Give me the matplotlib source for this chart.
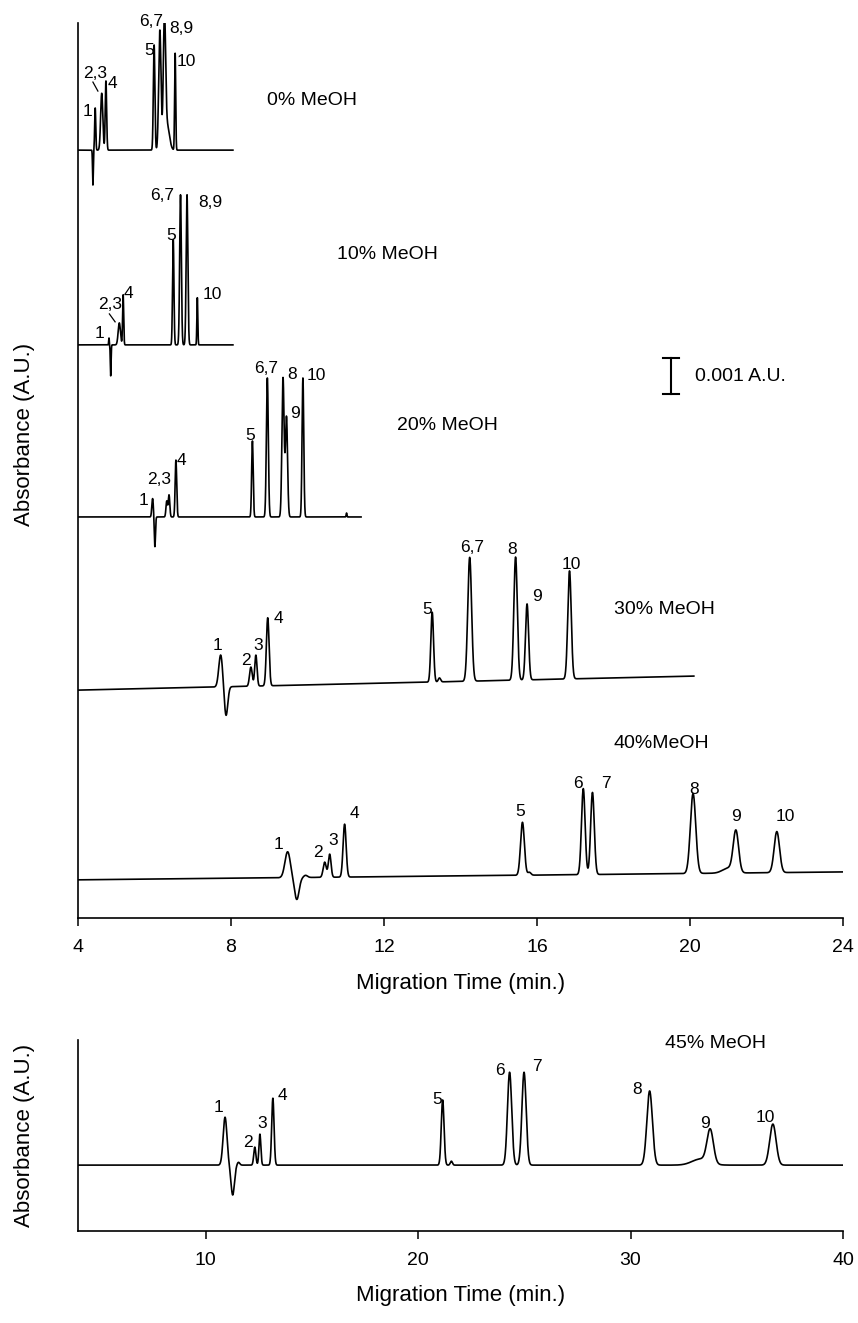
"""
Electropherograms of the ten analytes at increasing methanol content
Rebuilt from peak tables read off the published figure
"""

import numpy as np
import matplotlib
matplotlib.use('Agg')
import matplotlib.pyplot as plt

plt.rcParams['font.family'] = ['Liberation Sans', 'DejaVu Sans']

# ---- peak tables: migration time (min), height (mAU), width sigma (min) ----
# negative heights are the system dip after the EOF marker

t_0 = [4.39, 4.45, 4.62, 4.73, 5.99, 6.14, 6.26, 6.33, 6.54]
h_0 = [-0.97, 1.17, 1.58, 1.92, 2.92, 3.33, 3.50, 0.69, 2.69]
w_0 = [0.010, 0.014, 0.028, 0.018, 0.020, 0.030, 0.030, 0.060, 0.014]

t_10 = [4.81, 4.855, 5.08, 5.18, 6.49, 6.68, 6.85, 7.12]
h_10 = [0.19, -0.86, 0.61, 1.39, 2.92, 4.17, 4.17, 1.31]
w_10 = [0.008, 0.010, 0.030, 0.014, 0.018, 0.022, 0.022, 0.012]

t_20 = [5.95, 6.01, 6.32, 6.38, 6.56, 8.56, 8.95, 9.36, 9.45, 9.88, 11.02]
h_20 = [0.51, -0.83, 0.44, 0.61, 1.58, 2.11, 3.86, 3.86, 2.78, 3.86, 0.11]
w_20 = [0.020, 0.015, 0.020, 0.020, 0.020, 0.020, 0.025, 0.028, 0.028, 0.022, 0.010]

t_30 = [7.73, 7.87, 8.52, 8.65, 8.96, 13.26, 13.45, 14.24, 15.44, 15.74, 16.85]
h_30 = [0.89, -0.81, 0.53, 0.86, 1.89, 1.94, 0.11, 3.44, 3.42, 2.11, 3.00]
w_30 = [0.050, 0.045, 0.035, 0.030, 0.035, 0.035, 0.030, 0.050, 0.045, 0.040, 0.045]

t_40 = [9.48, 9.72, 9.95, 10.45, 10.58, 10.97, 15.62, 15.80, 17.21, 17.45,
        20.08, 21.00, 21.20, 22.27]
h_40 = [0.72, -0.61, 0.06, 0.42, 0.64, 1.47, 1.47, 0.08, 2.39, 2.28,
        2.22, 0.14, 1.14, 1.14]
w_40 = [0.070, 0.060, 0.050, 0.040, 0.035, 0.040, 0.050, 0.040, 0.047, 0.047,
        0.070, 0.150, 0.070, 0.070]

t_45 = [10.92, 11.28, 11.55, 12.32, 12.56, 13.17, 21.16, 21.57, 24.31, 24.99,
        30.90, 33.30, 33.75, 36.70]
h_45 = [1.33, -0.83, 0.08, 0.50, 0.86, 1.86, 1.81, 0.11, 2.58, 2.58,
        2.06, 0.17, 0.92, 1.14]
w_45 = [0.090, 0.080, 0.060, 0.050, 0.045, 0.055, 0.065, 0.050, 0.100, 0.100,
        0.130, 0.400, 0.150, 0.150]

# run window (min) and baseline drift (mAU from start to end of run)
runs = {
    '0% MeOH':   (4.0, 8.05, 0.00),
    '10% MeOH':  (4.0, 8.05, 0.00),
    '20% MeOH':  (4.0, 11.4, 0.00),
    '30% MeOH':  (4.0, 20.1, 0.39),
    '40%MeOH':   (4.0, 24.0, 0.22),
    '45% MeOH':  (4.0, 40.0, 0.00),
}

# peak labels: text, migration time, height (mAU) of the label
labels_0 = [('1', 4.26, 22.39), ('2,3', 4.44, 23.47), ('4', 4.91, 23.19),
            ('5', 5.86, 24.11), ('6,7', 5.90, 24.90), ('8,9', 6.69, 24.71),
            ('10', 6.84, 23.79)]
labels_10 = [('1', 4.56, 16.24), ('2,3', 4.84, 17.03), ('4', 5.33, 17.35),
             ('5', 6.43, 18.95), ('6,7', 6.19, 20.08), ('8,9', 7.47, 19.88),
             ('10', 7.52, 17.31)]
labels_20 = [('1', 5.71, 11.61), ('2,3', 6.13, 12.17), ('4', 6.71, 12.72),
             ('5', 8.50, 13.39), ('6,7', 8.93, 15.27), ('8', 9.59, 15.11),
             ('9', 9.67, 14.02), ('10', 10.24, 15.08)]
labels_30 = [('1', 7.66, 7.56), ('2', 8.39, 7.14), ('3', 8.71, 7.56),
             ('4', 9.23, 8.31), ('5', 13.12, 8.58), ('6,7', 14.30, 10.28),
             ('8', 15.35, 10.25), ('9', 16.00, 8.92), ('10', 16.89, 9.83)]
labels_40 = [('1', 9.23, 2.03), ('2', 10.27, 1.81), ('3', 10.66, 2.15),
             ('4', 11.22, 2.89), ('5', 15.56, 2.97), ('6', 17.07, 3.75),
             ('7', 17.80, 3.75), ('8', 20.10, 3.56), ('9', 21.20, 2.81),
             ('10', 22.48, 2.81)]
labels_45 = [('1', 10.59, 3.42), ('2', 12.00, 2.47), ('3', 12.69, 3.00),
             ('4', 13.60, 3.75), ('5', 20.89, 3.64), ('6', 23.86, 4.47),
             ('7', 25.60, 4.56), ('8', 30.31, 3.92), ('9', 33.49, 3.00),
             ('10', 36.33, 3.14)]


def trace(times, heights, widths, start, end, drift, n=8000):
    """Sum of gaussian peaks on a straight baseline"""
    t = np.linspace(start, end, n)
    y = drift * (t - start) / (end - start)
    for t0, h, s in zip(times, heights, widths):
        y = y + h * np.exp(-0.5 * ((t - t0) / s) ** 2)
    return t, y


def style_axis(ax):
    for side in ('top', 'right'):
        ax.spines[side].set_visible(False)
    for side in ('left', 'bottom'):
        ax.spines[side].set_linewidth(1.2)
    ax.set_yticks([])
    ax.tick_params(axis='x', direction='out', length=6, width=1.1,
                   pad=9, labelsize=14)


fig = plt.figure(figsize=(8.58, 13.23), dpi=100)
W, H = 858.0, 1323.0
ax_top = fig.add_axes([78 / W, 1 - 918 / H, 765 / W, 895 / H])
ax_bot = fig.add_axes([78 / W, 1 - 1231 / H, 765 / W, 191 / H])

# vertical offset of each trace in the stacked panel (mAU)
stack = [
    ('0% MeOH', t_0, h_0, w_0, 21.33, labels_0, (8.94, 22.72)),
    ('10% MeOH', t_10, h_10, w_10, 15.92, labels_10, (10.77, 18.42)),
    ('20% MeOH', t_20, h_20, w_20, 11.14, labels_20, (12.33, 13.69)),
    ('30% MeOH', t_30, h_30, w_30, 6.33, labels_30, (18.01, 8.56)),
    ('40%MeOH', t_40, h_40, w_40, 1.06, labels_40, (18.01, 4.86)),
]

for name, ts, hs, ws, off, labs, name_pos in stack:
    start, end, drift = runs[name]
    x, y = trace(ts, hs, ws, start, end, drift)
    ax_top.plot(x, y + off, color='black', lw=1.2)
    for txt, lx, ly in labs:
        ax_top.text(lx, ly, txt, fontsize=12.5, ha='center', va='center')
    ax_top.text(name_pos[0], name_pos[1], name, fontsize=14,
                ha='left', va='center')

# little leader strokes for the merged 2,3 peaks
ax_top.plot([4.39, 4.52], [23.22, 22.97], color='black', lw=0.9)
ax_top.plot([4.82, 4.97], [16.78, 16.56], color='black', lw=0.9)

# 0.001 A.U. scale bar
ax_top.plot([19.5, 19.5], [14.56, 15.56], color='black', lw=1.5)
ax_top.plot([19.3, 19.7], [14.56, 14.56], color='black', lw=1.5)
ax_top.plot([19.3, 19.7], [15.56, 15.56], color='black', lw=1.5)
ax_top.text(20.13, 15.03, '0.001 A.U.', fontsize=14, ha='left', va='center')

ax_top.set_xlim(4, 24)
ax_top.set_ylim(0, 895 / 36)
ax_top.set_xticks([4, 8, 12, 16, 20, 24])
style_axis(ax_top)
ax_top.set_xlabel('Migration Time (min.)', fontsize=16, labelpad=12)
ax_top.set_ylabel('Absorbance (A.U.)', fontsize=16)
ax_top.yaxis.set_label_coords(-0.056, 0.54)

# 45 % MeOH on its own, longer time axis
start, end, drift = runs['45% MeOH']
x, y = trace(t_45, h_45, w_45, start, end, drift)
ax_bot.plot(x, y + 1.83, color='black', lw=1.2)
for txt, lx, ly in labels_45:
    ax_bot.text(lx, ly, txt, fontsize=12.5, ha='center', va='center')
ax_bot.text(31.62, 5.22, '45% MeOH', fontsize=14, ha='left', va='center')

ax_bot.set_xlim(4, 40)
ax_bot.set_ylim(0, 191 / 36)
ax_bot.set_xticks([10, 20, 30, 40])
style_axis(ax_bot)
ax_bot.set_xlabel('Migration Time (min.)', fontsize=16, labelpad=12)
ax_bot.set_ylabel('Absorbance (A.U.)', fontsize=16)
ax_bot.yaxis.set_label_coords(-0.056, 0.5)

plt.savefig('out.png', dpi=100)
plt.close()
